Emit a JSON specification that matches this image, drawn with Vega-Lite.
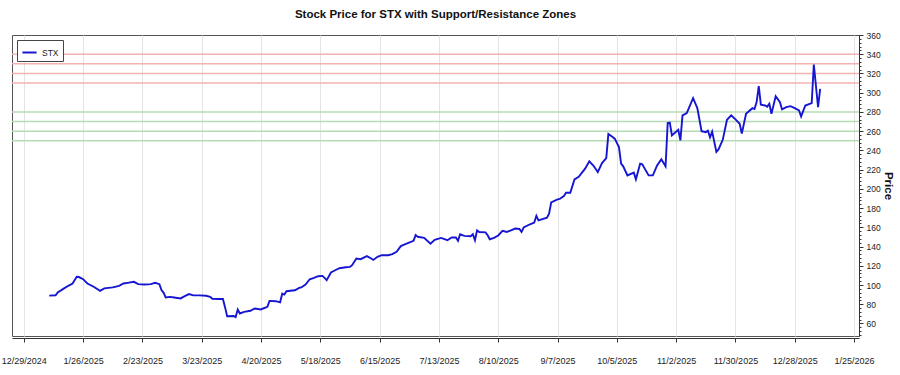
{
  "$schema": "https://vega.github.io/schema/vega-lite/v6.json",
  "width": 847,
  "height": 301,
  "autosize": "none",
  "padding": {"left": 12, "top": 35, "right": 41, "bottom": 39},
  "background": "white",
  "title": {"text": "Stock Price for STX with Support/Resistance Zones", "anchor": "middle", "frame": "group", "fontSize": 11.5, "fontWeight": "bold", "font": "Liberation Sans", "offset": 11, "color": "#111"},
  "config": {"view": {"stroke": "#555", "strokeWidth": 1}, "font": "Liberation Sans"},
  "datasets": {
    "zones": [
      {"level": 250, "zone": "support"}, {"level": 260, "zone": "support"}, {"level": 270, "zone": "support"}, {"level": 280, "zone": "support"},
      {"level": 310, "zone": "resistance"}, {"level": 320, "zone": "resistance"}, {"level": 330, "zone": "resistance"}, {"level": 340, "zone": "resistance"}
    ],
    "prices": [
      {"date": "2025-01-10", "price": 89.0, "symbol": "STX"},
      {"date": "2025-01-13", "price": 89.3, "symbol": "STX"},
      {"date": "2025-01-14", "price": 92.3, "symbol": "STX"},
      {"date": "2025-01-17", "price": 96.5, "symbol": "STX"},
      {"date": "2025-01-19", "price": 99.2, "symbol": "STX"},
      {"date": "2025-01-21", "price": 101.6, "symbol": "STX"},
      {"date": "2025-01-23", "price": 108.5, "symbol": "STX"},
      {"date": "2025-01-24", "price": 108.3, "symbol": "STX"},
      {"date": "2025-01-26", "price": 106.1, "symbol": "STX"},
      {"date": "2025-01-28", "price": 101.6, "symbol": "STX"},
      {"date": "2025-01-31", "price": 98.2, "symbol": "STX"},
      {"date": "2025-02-03", "price": 94.0, "symbol": "STX"},
      {"date": "2025-02-05", "price": 96.5, "symbol": "STX"},
      {"date": "2025-02-09", "price": 97.5, "symbol": "STX"},
      {"date": "2025-02-12", "price": 99.2, "symbol": "STX"},
      {"date": "2025-02-14", "price": 101.6, "symbol": "STX"},
      {"date": "2025-02-16", "price": 102.3, "symbol": "STX"},
      {"date": "2025-02-19", "price": 103.3, "symbol": "STX"},
      {"date": "2025-02-21", "price": 100.9, "symbol": "STX"},
      {"date": "2025-02-24", "price": 100.5, "symbol": "STX"},
      {"date": "2025-02-27", "price": 100.9, "symbol": "STX"},
      {"date": "2025-03-01", "price": 102.3, "symbol": "STX"},
      {"date": "2025-03-03", "price": 100.9, "symbol": "STX"},
      {"date": "2025-03-04", "price": 94.7, "symbol": "STX"},
      {"date": "2025-03-05", "price": 91.9, "symbol": "STX"},
      {"date": "2025-03-06", "price": 87.1, "symbol": "STX"},
      {"date": "2025-03-08", "price": 87.7, "symbol": "STX"},
      {"date": "2025-03-10", "price": 87.1, "symbol": "STX"},
      {"date": "2025-03-13", "price": 86.1, "symbol": "STX"},
      {"date": "2025-03-15", "price": 88.5, "symbol": "STX"},
      {"date": "2025-03-17", "price": 90.6, "symbol": "STX"},
      {"date": "2025-03-19", "price": 89.2, "symbol": "STX"},
      {"date": "2025-03-22", "price": 89.2, "symbol": "STX"},
      {"date": "2025-03-25", "price": 88.8, "symbol": "STX"},
      {"date": "2025-03-27", "price": 87.7, "symbol": "STX"},
      {"date": "2025-03-28", "price": 85.7, "symbol": "STX"},
      {"date": "2025-03-31", "price": 85.4, "symbol": "STX"},
      {"date": "2025-04-02", "price": 85.4, "symbol": "STX"},
      {"date": "2025-04-03", "price": 77.0, "symbol": "STX"},
      {"date": "2025-04-04", "price": 67.6, "symbol": "STX"},
      {"date": "2025-04-07", "price": 67.8, "symbol": "STX"},
      {"date": "2025-04-08", "price": 66.6, "symbol": "STX"},
      {"date": "2025-04-09", "price": 74.6, "symbol": "STX"},
      {"date": "2025-04-10", "price": 70.4, "symbol": "STX"},
      {"date": "2025-04-12", "price": 72.1, "symbol": "STX"},
      {"date": "2025-04-15", "price": 73.2, "symbol": "STX"},
      {"date": "2025-04-17", "price": 75.6, "symbol": "STX"},
      {"date": "2025-04-20", "price": 74.6, "symbol": "STX"},
      {"date": "2025-04-21", "price": 75.6, "symbol": "STX"},
      {"date": "2025-04-23", "price": 77.3, "symbol": "STX"},
      {"date": "2025-04-24", "price": 83.5, "symbol": "STX"},
      {"date": "2025-04-27", "price": 83.2, "symbol": "STX"},
      {"date": "2025-04-29", "price": 82.0, "symbol": "STX"},
      {"date": "2025-04-30", "price": 91.0, "symbol": "STX"},
      {"date": "2025-05-01", "price": 90.0, "symbol": "STX"},
      {"date": "2025-05-02", "price": 93.6, "symbol": "STX"},
      {"date": "2025-05-06", "price": 94.6, "symbol": "STX"},
      {"date": "2025-05-08", "price": 97.0, "symbol": "STX"},
      {"date": "2025-05-09", "price": 97.5, "symbol": "STX"},
      {"date": "2025-05-11", "price": 100.5, "symbol": "STX"},
      {"date": "2025-05-13", "price": 106.0, "symbol": "STX"},
      {"date": "2025-05-15", "price": 107.4, "symbol": "STX"},
      {"date": "2025-05-17", "price": 109.2, "symbol": "STX"},
      {"date": "2025-05-19", "price": 109.5, "symbol": "STX"},
      {"date": "2025-05-20", "price": 107.4, "symbol": "STX"},
      {"date": "2025-05-21", "price": 105.0, "symbol": "STX"},
      {"date": "2025-05-23", "price": 113.0, "symbol": "STX"},
      {"date": "2025-05-25", "price": 115.4, "symbol": "STX"},
      {"date": "2025-05-27", "price": 117.5, "symbol": "STX"},
      {"date": "2025-05-30", "price": 118.5, "symbol": "STX"},
      {"date": "2025-06-01", "price": 118.9, "symbol": "STX"},
      {"date": "2025-06-02", "price": 120.6, "symbol": "STX"},
      {"date": "2025-06-04", "price": 127.6, "symbol": "STX"},
      {"date": "2025-06-06", "price": 126.9, "symbol": "STX"},
      {"date": "2025-06-09", "price": 130.0, "symbol": "STX"},
      {"date": "2025-06-11", "price": 127.6, "symbol": "STX"},
      {"date": "2025-06-12", "price": 126.1, "symbol": "STX"},
      {"date": "2025-06-14", "price": 129.3, "symbol": "STX"},
      {"date": "2025-06-16", "price": 131.0, "symbol": "STX"},
      {"date": "2025-06-19", "price": 131.0, "symbol": "STX"},
      {"date": "2025-06-21", "price": 132.1, "symbol": "STX"},
      {"date": "2025-06-23", "price": 134.6, "symbol": "STX"},
      {"date": "2025-06-25", "price": 140.5, "symbol": "STX"},
      {"date": "2025-06-28", "price": 143.3, "symbol": "STX"},
      {"date": "2025-07-01", "price": 146.0, "symbol": "STX"},
      {"date": "2025-07-02", "price": 151.9, "symbol": "STX"},
      {"date": "2025-07-03", "price": 150.2, "symbol": "STX"},
      {"date": "2025-07-06", "price": 149.1, "symbol": "STX"},
      {"date": "2025-07-09", "price": 143.0, "symbol": "STX"},
      {"date": "2025-07-11", "price": 147.0, "symbol": "STX"},
      {"date": "2025-07-14", "price": 149.0, "symbol": "STX"},
      {"date": "2025-07-17", "price": 146.6, "symbol": "STX"},
      {"date": "2025-07-19", "price": 149.5, "symbol": "STX"},
      {"date": "2025-07-21", "price": 149.4, "symbol": "STX"},
      {"date": "2025-07-22", "price": 146.0, "symbol": "STX"},
      {"date": "2025-07-23", "price": 152.8, "symbol": "STX"},
      {"date": "2025-07-25", "price": 151.1, "symbol": "STX"},
      {"date": "2025-07-28", "price": 150.8, "symbol": "STX"},
      {"date": "2025-07-29", "price": 152.8, "symbol": "STX"},
      {"date": "2025-07-30", "price": 146.6, "symbol": "STX"},
      {"date": "2025-07-31", "price": 156.9, "symbol": "STX"},
      {"date": "2025-08-01", "price": 155.2, "symbol": "STX"},
      {"date": "2025-08-04", "price": 154.8, "symbol": "STX"},
      {"date": "2025-08-05", "price": 151.7, "symbol": "STX"},
      {"date": "2025-08-06", "price": 147.6, "symbol": "STX"},
      {"date": "2025-08-08", "price": 149.0, "symbol": "STX"},
      {"date": "2025-08-10", "price": 151.5, "symbol": "STX"},
      {"date": "2025-08-12", "price": 156.3, "symbol": "STX"},
      {"date": "2025-08-14", "price": 155.2, "symbol": "STX"},
      {"date": "2025-08-16", "price": 156.9, "symbol": "STX"},
      {"date": "2025-08-18", "price": 158.7, "symbol": "STX"},
      {"date": "2025-08-20", "price": 158.3, "symbol": "STX"},
      {"date": "2025-08-21", "price": 155.2, "symbol": "STX"},
      {"date": "2025-08-22", "price": 159.8, "symbol": "STX"},
      {"date": "2025-08-25", "price": 163.2, "symbol": "STX"},
      {"date": "2025-08-27", "price": 165.0, "symbol": "STX"},
      {"date": "2025-08-28", "price": 172.0, "symbol": "STX"},
      {"date": "2025-08-29", "price": 167.3, "symbol": "STX"},
      {"date": "2025-09-02", "price": 170.1, "symbol": "STX"},
      {"date": "2025-09-03", "price": 174.3, "symbol": "STX"},
      {"date": "2025-09-04", "price": 186.0, "symbol": "STX"},
      {"date": "2025-09-07", "price": 189.1, "symbol": "STX"},
      {"date": "2025-09-08", "price": 189.5, "symbol": "STX"},
      {"date": "2025-09-10", "price": 192.6, "symbol": "STX"},
      {"date": "2025-09-11", "price": 196.1, "symbol": "STX"},
      {"date": "2025-09-13", "price": 196.0, "symbol": "STX"},
      {"date": "2025-09-15", "price": 209.9, "symbol": "STX"},
      {"date": "2025-09-17", "price": 212.5, "symbol": "STX"},
      {"date": "2025-09-20", "price": 221.0, "symbol": "STX"},
      {"date": "2025-09-22", "price": 228.7, "symbol": "STX"},
      {"date": "2025-09-24", "price": 224.0, "symbol": "STX"},
      {"date": "2025-09-26", "price": 217.5, "symbol": "STX"},
      {"date": "2025-09-28", "price": 226.8, "symbol": "STX"},
      {"date": "2025-09-30", "price": 232.0, "symbol": "STX"},
      {"date": "2025-10-01", "price": 257.0, "symbol": "STX"},
      {"date": "2025-10-03", "price": 254.0, "symbol": "STX"},
      {"date": "2025-10-04", "price": 252.2, "symbol": "STX"},
      {"date": "2025-10-06", "price": 243.4, "symbol": "STX"},
      {"date": "2025-10-07", "price": 226.2, "symbol": "STX"},
      {"date": "2025-10-08", "price": 223.4, "symbol": "STX"},
      {"date": "2025-10-10", "price": 214.0, "symbol": "STX"},
      {"date": "2025-10-13", "price": 216.9, "symbol": "STX"},
      {"date": "2025-10-14", "price": 209.9, "symbol": "STX"},
      {"date": "2025-10-16", "price": 226.2, "symbol": "STX"},
      {"date": "2025-10-17", "price": 225.5, "symbol": "STX"},
      {"date": "2025-10-20", "price": 214.0, "symbol": "STX"},
      {"date": "2025-10-22", "price": 214.0, "symbol": "STX"},
      {"date": "2025-10-24", "price": 224.4, "symbol": "STX"},
      {"date": "2025-10-26", "price": 230.7, "symbol": "STX"},
      {"date": "2025-10-28", "price": 223.4, "symbol": "STX"},
      {"date": "2025-10-29", "price": 268.4, "symbol": "STX"},
      {"date": "2025-10-30", "price": 268.8, "symbol": "STX"},
      {"date": "2025-10-31", "price": 255.6, "symbol": "STX"},
      {"date": "2025-11-03", "price": 261.5, "symbol": "STX"},
      {"date": "2025-11-04", "price": 250.4, "symbol": "STX"},
      {"date": "2025-11-05", "price": 276.4, "symbol": "STX"},
      {"date": "2025-11-07", "price": 278.8, "symbol": "STX"},
      {"date": "2025-11-10", "price": 294.3, "symbol": "STX"},
      {"date": "2025-11-12", "price": 284.0, "symbol": "STX"},
      {"date": "2025-11-14", "price": 260.0, "symbol": "STX"},
      {"date": "2025-11-16", "price": 259.0, "symbol": "STX"},
      {"date": "2025-11-17", "price": 260.5, "symbol": "STX"},
      {"date": "2025-11-18", "price": 253.5, "symbol": "STX"},
      {"date": "2025-11-19", "price": 259.5, "symbol": "STX"},
      {"date": "2025-11-21", "price": 238.5, "symbol": "STX"},
      {"date": "2025-11-22", "price": 241.0, "symbol": "STX"},
      {"date": "2025-11-23", "price": 246.0, "symbol": "STX"},
      {"date": "2025-11-24", "price": 251.0, "symbol": "STX"},
      {"date": "2025-11-26", "price": 271.9, "symbol": "STX"},
      {"date": "2025-11-28", "price": 276.4, "symbol": "STX"},
      {"date": "2025-11-30", "price": 272.2, "symbol": "STX"},
      {"date": "2025-12-02", "price": 267.7, "symbol": "STX"},
      {"date": "2025-12-03", "price": 257.4, "symbol": "STX"},
      {"date": "2025-12-05", "price": 278.1, "symbol": "STX"},
      {"date": "2025-12-08", "price": 283.9, "symbol": "STX"},
      {"date": "2025-12-09", "price": 283.0, "symbol": "STX"},
      {"date": "2025-12-10", "price": 290.2, "symbol": "STX"},
      {"date": "2025-12-11", "price": 306.8, "symbol": "STX"},
      {"date": "2025-12-12", "price": 287.5, "symbol": "STX"},
      {"date": "2025-12-14", "price": 286.7, "symbol": "STX"},
      {"date": "2025-12-15", "price": 285.5, "symbol": "STX"},
      {"date": "2025-12-16", "price": 288.5, "symbol": "STX"},
      {"date": "2025-12-17", "price": 278.1, "symbol": "STX"},
      {"date": "2025-12-19", "price": 296.4, "symbol": "STX"},
      {"date": "2025-12-21", "price": 290.2, "symbol": "STX"},
      {"date": "2025-12-22", "price": 282.6, "symbol": "STX"},
      {"date": "2025-12-24", "price": 285.0, "symbol": "STX"},
      {"date": "2025-12-26", "price": 286.0, "symbol": "STX"},
      {"date": "2025-12-28", "price": 284.0, "symbol": "STX"},
      {"date": "2025-12-30", "price": 281.6, "symbol": "STX"},
      {"date": "2025-12-31", "price": 275.3, "symbol": "STX"},
      {"date": "2026-01-02", "price": 286.7, "symbol": "STX"},
      {"date": "2026-01-05", "price": 289.1, "symbol": "STX"},
      {"date": "2026-01-06", "price": 329.3, "symbol": "STX"},
      {"date": "2026-01-08", "price": 285.0, "symbol": "STX"},
      {"date": "2026-01-09", "price": 304.0, "symbol": "STX"}
    ]
  },
  "layer": [
    {
      "data": {"name": "zones"},
      "transform": [{"filter": "datum.zone === 'resistance'"}],
      "mark": {"type": "rule", "color": "#f3b2b2", "strokeWidth": 1.5},
      "encoding": {
        "y": {"field": "level", "type": "quantitative", "scale": {"domain": [47, 360], "nice": false, "zero": false},
          "axis": {"orient": "right", "values": [48,52,56,60,64,68,72,76,80,84,88,92,96,100,104,108,112,116,120,124,128,132,136,140,144,148,152,156,160,164,168,172,176,180,184,188,192,196,200,204,208,212,216,220,224,228,232,236,240,244,248,252,256,260,264,268,272,276,280,284,288,292,296,300,304,308,312,316,320,324,328,332,336,340,344,348,352,356,360], "labels": false, "tickSize": 2, "domain": false, "grid": false, "title": null, "tickColor": "#333"}}
      }
    },
    {
      "data": {"name": "zones"},
      "transform": [{"filter": "datum.zone === 'support'"}],
      "mark": {"type": "rule", "color": "#b6dcb6", "strokeWidth": 1.5},
      "encoding": {
        "y": {"field": "level", "type": "quantitative", "scale": {"domain": [47, 360], "nice": false, "zero": false}, "axis": null}
      }
    },
    {
      "data": {"name": "prices"},
      "mark": {"type": "line", "strokeWidth": 1.9, "interpolate": "linear"},
      "encoding": {
        "x": {"field": "date", "type": "temporal",
          "scale": {"type": "utc", "domain": [{"year": 2024, "month": 12, "date": 23, "hours": 10, "utc": true}, {"year": 2026, "month": 1, "date": 27, "hours": 8, "utc": true}]},
          "axis": {"values": [
            {"year": 2024, "month": 12, "date": 29, "utc": true},
            {"year": 2025, "month": 1, "date": 26, "utc": true},
            {"year": 2025, "month": 2, "date": 23, "utc": true},
            {"year": 2025, "month": 3, "date": 23, "utc": true},
            {"year": 2025, "month": 4, "date": 20, "utc": true},
            {"year": 2025, "month": 5, "date": 18, "utc": true},
            {"year": 2025, "month": 6, "date": 15, "utc": true},
            {"year": 2025, "month": 7, "date": 13, "utc": true},
            {"year": 2025, "month": 8, "date": 10, "utc": true},
            {"year": 2025, "month": 9, "date": 7, "utc": true},
            {"year": 2025, "month": 10, "date": 5, "utc": true},
            {"year": 2025, "month": 11, "date": 2, "utc": true},
            {"year": 2025, "month": 11, "date": 30, "utc": true},
            {"year": 2025, "month": 12, "date": 28, "utc": true},
            {"year": 2026, "month": 1, "date": 25, "utc": true}
          ],
          "labelExpr": "utcFormat(datum.value, '%-m/%-d/%Y')", "title": null, "grid": true, "gridColor": "#e3e3e3", "gridWidth": 1,
          "domainColor": "#333", "tickColor": "#333", "tickSize": 4, "offset": 2, "labelPadding": 14, "labelFontSize": 9, "labelColor": "#222", "labelFlush": false}},
        "y": {"field": "price", "type": "quantitative", "scale": {"domain": [47, 360], "nice": false, "zero": false},
          "axis": {"orient": "right", "values": [60,80,100,120,140,160,180,200,220,240,260,280,300,320,340,360], "title": "Price", "titleFontWeight": "bold", "titleFontSize": 11.5, "titleAngle": 90, "titleColor": "#111", "titlePadding": 2, "labelFontSize": 8.5, "labelColor": "#222", "tickSize": 4, "domainColor": "#333", "tickColor": "#333", "grid": false, "labelPadding": 3}},
        "color": {"field": "symbol", "type": "nominal", "scale": {"domain": ["STX"], "range": ["#1616d2"]},
          "legend": {"orient": "top-left", "offset": 5, "title": null, "fillColor": "white", "strokeColor": "#444", "padding": 4, "symbolType": "stroke", "symbolStrokeWidth": 2, "symbolSize": 200, "labelFontSize": 8.5, "labelColor": "#222"}}
      }
    }
  ],
  "resolve": {"axis": {"y": "independent"}}
}
